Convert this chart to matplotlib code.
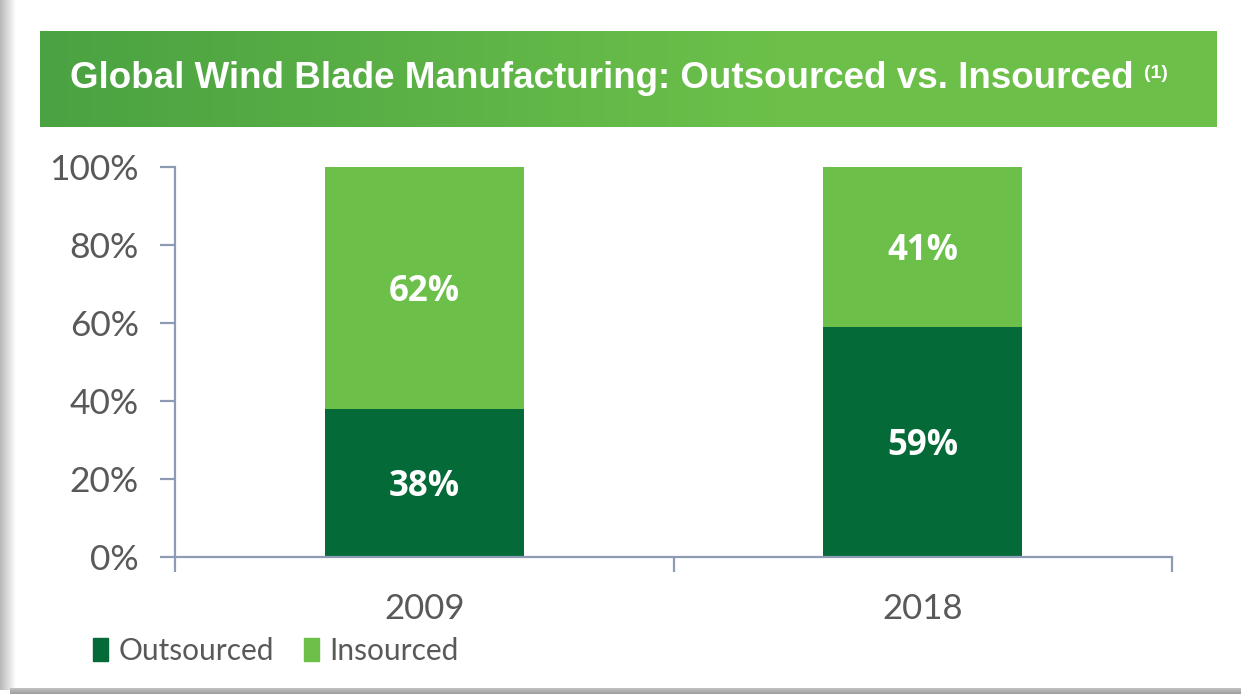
import numpy as np
import matplotlib
matplotlib.use("Agg")
import matplotlib.pyplot as plt
from matplotlib.patches import Patch

# --- data ---
years = ["2009", "2018"]
outsourced = [38, 59]
insourced = [62, 41]
y_ticks = [0, 20, 40, 60, 80, 100]
y_tick_labels = ["0%", "20%", "40%", "60%", "80%", "100%"]

DARK = "#046a38"
LIGHT = "#6cc04a"
AXIS = "#8e9bb5"
TXT = "#595959"

W, H = 1241, 694
fig = plt.figure(figsize=(W / 100, H / 100), dpi=100)
fig.patch.set_facecolor("white")


def px(x0, y0, x1, y1):
    # pixel box (top-left origin) -> figure fraction rect
    return [x0 / W, 1 - y1 / H, (x1 - x0) / W, (y1 - y0) / H]


# drop shadow of the screenshot (left + bottom)
sh = fig.add_axes(px(0, 0, 16, 690))
sh.imshow(np.linspace(0.72, 1.0, 50)[None, :], cmap="gray", vmin=0, vmax=1,
          aspect="auto", extent=[0, 1, 0, 1])
sh.axis("off")
sb = fig.add_axes(px(10, 688, W, H))
sb.imshow(np.linspace(0.78, 0.62, 10)[:, None], cmap="gray", vmin=0, vmax=1,
          aspect="auto", extent=[0, 1, 0, 1])
sb.axis("off")

# title banner with gradient
bn = fig.add_axes(px(40, 31, 1217, 127))
grad = np.clip(np.linspace(0, 1.6, 300), 0, 1)
c0 = np.array([0x4a, 0xa2, 0x42]) / 255
c1 = np.array([0x6c, 0xc0, 0x4a]) / 255
img = c0[None, :] + (c1 - c0)[None, :] * grad[:, None]
bn.imshow(img[None, :, :], aspect="auto", extent=[0, 1, 0, 1])
bn.axis("off")
fig.text(602 / W, 1 - 79 / H, "Global Wind Blade Manufacturing: Outsourced vs. Insourced",
         color="white", fontsize=26.5, fontweight="bold", family="Liberation Sans",
         ha="center", va="center")
fig.text(1144 / W, 1 - 73 / H, "(1)", color="white", fontsize=14, fontweight="bold",
         family="Liberation Sans", ha="left", va="center")

# main chart
ax = fig.add_axes(px(175, 167, 1172, 557))
x = np.arange(len(years))
ax.bar(x, outsourced, width=0.4, color=DARK, label="Outsourced")
ax.bar(x, insourced, width=0.4, bottom=outsourced, color=LIGHT, label="Insourced")

for i in range(len(years)):
    ax.text(x[i], outsourced[i] / 2 - 1, f"{outsourced[i]}%", color="white",
            fontsize=25, fontweight="bold", family="Open Sans", ha="center", va="center")
    ax.text(x[i], outsourced[i] + insourced[i] / 2 - 1, f"{insourced[i]}%", color="white",
            fontsize=25, fontweight="bold", family="Open Sans", ha="center", va="center")

ax.set_xlim(-0.5, len(years) - 0.5)
ax.set_ylim(0, 100)
for s in ["top", "right"]:
    ax.spines[s].set_visible(False)
for s in ["left", "bottom"]:
    ax.spines[s].set_color(AXIS)
    ax.spines[s].set_linewidth(1.6)

ax.set_yticks(y_ticks)
ax.set_yticklabels(y_tick_labels, family="Lato", fontsize=25.5, color=TXT)
ax.tick_params(axis="y", length=11, width=1.6, color=AXIS, pad=15)

ax.set_xticks(np.arange(len(years) + 1) - 0.5)
ax.set_xticklabels([])
ax.tick_params(axis="x", which="major", length=11, width=1.6, color=AXIS)
ax.set_xticks(x, minor=True)
ax.set_xticklabels(years, minor=True, family="Lato", fontsize=25, color=TXT)
ax.tick_params(axis="x", which="minor", length=0, pad=26)

handles = [Patch(color=DARK), Patch(color=LIGHT)]
fig.legend(handles, ["Outsourced", "Insourced"], loc="center left",
           bbox_to_anchor=(66 / W, 1 - 651 / H), ncol=2, frameon=False,
           prop={"family": "Lato", "size": 21.5}, labelcolor=TXT,
           handlelength=0.5, handleheight=0.8, handletextpad=0.35, columnspacing=1.0)

fig.savefig("out.png", dpi=100, facecolor="white")
